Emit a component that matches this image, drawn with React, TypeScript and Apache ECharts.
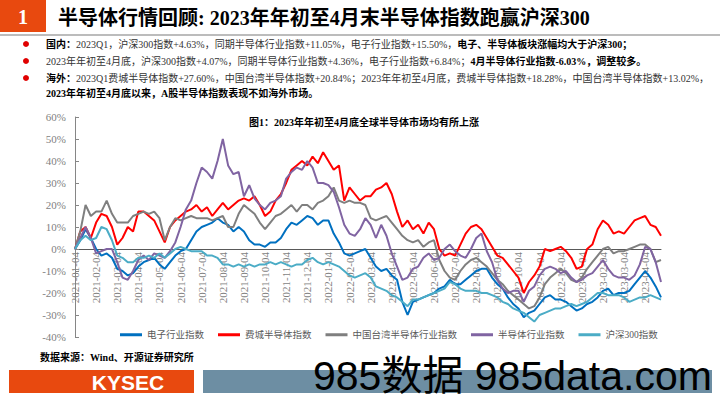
import React, { useEffect, useRef } from "react";
import * as echarts from "echarts";

const months = [
  "2021-01", "2021-02", "2021-03", "2021-04", "2021-05", "2021-06", "2021-07",
  "2021-08", "2021-09", "2021-10", "2021-11", "2021-12", "2022-01", "2022-02",
  "2022-03", "2022-04", "2022-05", "2022-06", "2022-07", "2022-08", "2022-09",
  "2022-10", "2022-11", "2022-12", "2023-01", "2023-02", "2023-03", "2023-04",
];
const weekDays = ["04", "11", "18", "25"];
const categories = months.flatMap((m) => weekDays.map((d) => `${m}-${d}`));

const seriesNames = ["电子行业指数", "费城半导体指数", "中国台湾半导体行业指数", "半导体行业指数", "沪深300指数"];
const seriesColors = ["#0070C0", "#FF0000", "#7F7F7F", "#8064A2", "#4BACC6"];

const electronics = [
  0, 4, 9, 5, 0, -3, -2, -4, -9, -10, -12, -11, -8, -6, -5, -4, -7, -9, -6, -3,
  -1, 0, 4, 8, 10, 11, 12, 14, 12, 11, 8, 10, 8, 4, 2, 2, 1, 3, 3, 5,
  9, 12, 11, 13, 15, 14, 11, 13, 13, 7, 3, -2, -3, -2, -1, 0, -4, -8, -10, -9,
  -12, -14, -24, -30, -24, -23, -22, -21, -20, -18, -17, -14, -16, -16, -14, -12, -10, -9, -9, -13,
  -16, -18, -22, -25, -27, -31, -29, -28, -25, -22, -21, -23, -23, -24, -26, -28, -27, -25, -24, -22,
  -19, -18, -21, -20, -20, -19, -16, -13, -10, -13, -17, -22,
];
const sox = [
  0, 8, 10, 5, 12, 16, 15, 10, 2, 5, 10, 8, 17, 17, 15, 13, 8, 3, 10, 13,
  15, 17, 18, 20, 17, 19, 15, 18, 21, 18, 20, 22, 23, 22, 24, 20, 15, 17, 22, 25,
  30, 36, 38, 40, 38, 42, 39, 44, 40, 36, 38, 22, 28, 25, 22, 24, 24, 27, 28, 30,
  25, 17, 10, 13, 9, 11, 7, 12, 9, 0, -3, -2, -3, 2, 7, 10, 11, 9, 5, 1,
  -3, -4, -7, -10, -13, -20, -15, -12, -8, 0, -1, 0, 1, -1, -4, -9, -8, 0, 2, 9,
  13, 11, 7, 8, 7, 10, 13, 14, 15, 11, 10, 6,
];
const taiwanSemi = [
  0, 8, 20, 15, 17, 17, 22, 16, 12, 12, 12, 15, 16, 17, 16, 17, 14, 4, 10, 14,
  13, 14, 15, 14, 14, 14, 13, 14, 15, 10, 10, 16, 20, 18, 16, 12, 9, 12, 15, 16,
  18, 20, 17, 20, 20, 18, 21, 22, 24, 28, 22, 21, 22, 21, 21, 20, 14, 13, 14, 15,
  12, 9, 6, 4, 3, 4, 1, 3, 4, -5, -10, -13, -14, -10, -7, -5, -4, -6, -8, -11,
  -14, -16, -19, -21, -23, -25, -27, -26, -22, -16, -13, -11, -9, -11, -14, -15, -13, -9, -6, -3,
  0, 1, -2, -1, -1, 0, 1, 2, 2, 0, -6, -5,
];
const semiIndustry = [
  0, 5, 10, 5, -2, -1, 0, 0, -6, -13, -14, -10, -5, -3, -5, -2, -3, -4, -1, 3,
  10, 18, 22, 30, 37, 35, 32, 40, 50, 38, 34, 35, 24, 29, 23, 20, 18, 21, 22, 24,
  32, 35, 37, 36, 40, 37, 30, 30, 29, 26, 19, 11, 7, 6, 9, 14, 11, 5, 11, 6,
  -2, -8, -14, -13, -9, -8, -4, -2, -5, -4, 0, 2, -1, -3, -4, 0, 5, 7, -1, -6,
  -14, -18, -20, -19, -19, -24, -19, -17, -12, -9, -8, -9, -11, -10, -13, -15, -14, -12, -11, -8,
  -5, -9, -12, -13, -13, -14, -12, -7, 1, 0, -6, -15,
];
const csi300 = [
  0, 4, 6, 4, 5, 10, 9, 4, -3, -4, -6, -6, -4, -4, -3, -4, -2, -4, -2, 0,
  1, 0, -1, -1, -1, -3, -3, -4, -7, -7, -8, -7, -8, -7, -8, -7, -7, -6, -7, -6,
  -7, -8, -7, -7, -5, -4, -6, -7, -6, -7, -8, -10, -12, -13, -12, -11, -13, -17, -18, -19,
  -21, -22, -24, -26, -23, -23, -22, -21, -20, -19, -18, -15, -16, -18, -19, -19, -19, -20, -20, -21,
  -22, -24, -25, -27, -28, -29, -31, -33, -30, -29, -28, -27, -27, -26, -25, -26, -25, -24, -22, -20,
  -20, -21, -21, -21, -22, -24, -23, -22, -22, -21, -22, -23,
];
const seriesData = [electronics, sox, taiwanSemi, semiIndustry, csi300];

const SERIF = "'Liberation Serif', 'Times New Roman', 'Noto Sans CJK SC', serif";
const SANS = "'Liberation Sans', Arial, 'Noto Sans CJK SC', sans-serif";

const bulletLines = [
  {
    y: 44,
    text:
      "{b|国内：}{n|2023Q1，沪深300指数+4.63%，同期半导体行业指数+11.05%，电子行业指数+15.50%，}{b|电子、半导体板块涨幅均大于沪深300；}",
    dot: true,
  },
  {
    y: 61,
    text:
      "{n|2023年年初至4月底，沪深300指数+4.07%，同期半导体行业指数+4.36%，电子行业指数+6.84%；}{b|4月半导体行业指数-6.03%，调整较多。}",
    dot: true,
  },
  {
    y: 78,
    text:
      "{b|海外：}{n|2023Q1费城半导体指数+27.60%，中国台湾半导体指数+20.84%；2023年年初至4月底，费城半导体指数+18.28%，中国台湾半导体指数+13.02%，}",
    dot: true,
  },
  {
    y: 93,
    text: "{b|2023年年初至4月底以来，A股半导体指数表现不如海外市场。}",
    dot: false,
  },
];

const GRID_TOP = 117;
const GRID_BOTTOM = 68;
const Y_MIN = -40;
const Y_MAX = 60;

export default function App() {
  const ref = useRef<HTMLDivElement>(null);
  useEffect(() => {
    if (!ref.current) return;
    const chart = echarts.init(ref.current, null, { renderer: "svg" });
    const rich = {
      b: { fontFamily: SERIF, fontSize: 10, fontWeight: "bold", fill: "#000", color: "#000" },
      n: { fontFamily: SERIF, fontSize: 10, fill: "#333", color: "#333" },
    };
    const graphics: any[] = [
      { type: "rect", shape: { x: 0, y: 0, width: 46, height: 32 }, style: { fill: "#E8490F" } },
      {
        type: "text", x: 23, y: 17,
        style: { text: "1", fill: "#fff", font: `bold 20px ${SERIF}`, align: "center", verticalAlign: "middle" },
      },
      {
        type: "text", x: 58, y: 18,
        style: {
          text: "半导体行情回顾: 2023年年初至4月末半导体指数跑赢沪深300",
          fill: "#000", font: `bold 20px ${SERIF}`, align: "left", verticalAlign: "middle",
        },
      },
      { type: "line", shape: { x1: 0, y1: 35, x2: 720, y2: 35 }, style: { stroke: "#A6A6A6", lineWidth: 1.5 } },
      {
        type: "text", x: 364, y: 122,
        style: {
          text: "图1：2023年年初至4月底全球半导体市场均有所上涨",
          fill: "#000", font: `bold 10px ${SERIF}`, align: "center", verticalAlign: "middle",
        },
      },
      {
        type: "text", x: 40, y: 357,
        style: {
          text: "数据来源：Wind、开源证券研究所",
          fill: "#000", font: `bold 10px ${SERIF}`, align: "left", verticalAlign: "middle",
        },
      },
      { type: "rect", shape: { x: 9, y: 370, width: 185, height: 23 }, style: { fill: "#E8490F" } },
      {
        type: "text", x: 128, y: 382,
        style: { text: "KYSEC", fill: "#fff", font: `bold 21px ${SANS}`, align: "center", verticalAlign: "middle" },
      },
      { type: "rect", shape: { x: 203, y: 370, width: 509, height: 23 }, style: { fill: "#6D8EA3" } },
      {
        type: "text", x: 313, y: 376, z: 100,
        style: { text: "985数据 985data.com", fill: "#000", font: `41px ${SANS}`, align: "left", verticalAlign: "middle" },
      },
    ];
    bulletLines.forEach((l) => {
      if (l.dot) {
        graphics.push({ type: "circle", shape: { cx: 26, cy: l.y, r: 3 }, style: { fill: "#E00000" } });
      }
      graphics.push({
        type: "text", x: 46, y: l.y,
        style: { text: l.text, rich, align: "left", verticalAlign: "middle", font: `10px ${SERIF}` },
      });
    });

    const gridHeight = 405 - GRID_TOP - GRID_BOTTOM;
    const zeroOffset = -gridHeight * (0 - Y_MIN) / (Y_MAX - Y_MIN);

    chart.setOption({
      animation: false,
      backgroundColor: "#fff",
      grid: { left: 75, right: 59, top: GRID_TOP, bottom: GRID_BOTTOM, containLabel: false },
      legend: {
        data: seriesNames,
        left: 115,
        top: 325,
        itemWidth: 22,
        itemHeight: 3,
        itemGap: 14,
        icon: "rect",
        textStyle: { color: "#595959", fontSize: 9.5, fontFamily: SERIF },
      },
      xAxis: {
        type: "category",
        data: categories,
        boundaryGap: false,
        position: "bottom",
        offset: zeroOffset,
        axisLine: { onZero: false, lineStyle: { color: "#595959", width: 1 } },
        axisTick: { show: false },
        axisLabel: {
          rotate: 90,
          interval: (index: number) => index % 4 === 0,
          color: "#7F7F7F",
          fontSize: 11,
          fontFamily: SERIF,
          margin: 3,
        },
        splitLine: { show: false },
      },
      yAxis: {
        type: "value",
        min: Y_MIN,
        max: Y_MAX,
        interval: 10,
        axisLine: { show: true, lineStyle: { color: "#868686" } },
        axisTick: { show: true, inside: true, length: 4, lineStyle: { color: "#868686" } },
        axisLabel: { formatter: "{value}%", color: "#7F7F7F", fontSize: 11, fontFamily: SERIF, margin: 9 },
        splitLine: { show: false },
      },
      series: seriesNames.map((name, i) => ({
        name,
        type: "line",
        data: seriesData[i],
        showSymbol: false,
        symbol: "none",
        lineStyle: { width: 2, color: seriesColors[i] },
        itemStyle: { color: seriesColors[i] },
      })),
      graphic: graphics,
    });
    return () => chart.dispose();
  }, []);
  return (
    <div
      ref={ref}
      style={{ position: "fixed", left: 0, top: 0, width: 720, height: 405, background: "#fff" }}
    />
  );
}
